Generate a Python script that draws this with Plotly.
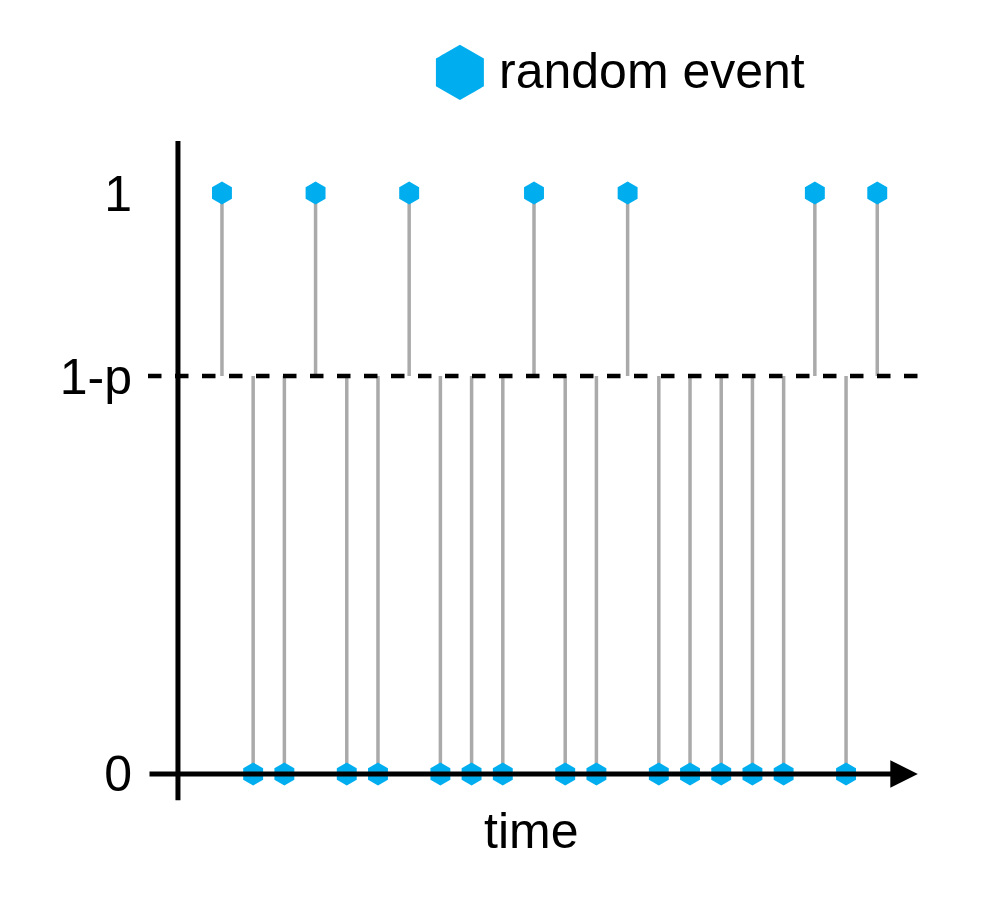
import plotly.graph_objects as go

# event index and outcome (1 = random event)
event_index = list(range(22))
event_value = [1, 0, 0, 1, 0, 0, 1, 0, 0, 0, 1, 0, 0, 1, 0, 0, 0, 0, 0, 1, 0, 1]
threshold = 0.685  # level of 1-p
tick_vals = [0, threshold, 1]
tick_text = ["0", "1-p", "1"]

blue = "#00AEEF"
font = dict(family="Liberation Sans, Arial", size=50, color="black")

# stems go from the 1-p baseline to the event value
sx, sy = [], []
for i, v in zip(event_index, event_value):
    sx += [i, i, None]
    sy += [threshold, v, None]

fig = go.Figure()
fig.add_trace(go.Scatter(x=sx, y=sy, mode="lines",
                         line=dict(color="#aaaaaa", width=3.5), hoverinfo="skip"))
fig.add_trace(go.Scatter(x=event_index, y=event_value, mode="markers",
                         marker=dict(symbol="hexagon", size=23, color=blue),
                         cliponaxis=False))

x0, x1 = -2.37, 22.53
fig.add_shape(type="line", x0=x0, x1=22.6, y0=threshold, y1=threshold,
              line=dict(color="black", width=4.5, dash="dash"))
fig.add_shape(type="line", x0=-1.41, x1=-1.41, y0=-0.045, y1=1.09,
              line=dict(color="black", width=5))
fig.add_annotation(x=22.3, y=0, ax=x0, ay=0, axref="x", ayref="y",
                   showarrow=True, arrowhead=2, arrowsize=1.1, arrowwidth=5,
                   arrowcolor="black", text="")
fig.add_annotation(x=0.493, y=-0.045, xref="paper", yref="paper", text="time",
                   showarrow=False, font=font, yanchor="middle")
# legend
fig.add_annotation(x=0.402, y=1.106, xref="paper", yref="paper", text="⬢",
                   showarrow=False, yanchor="middle",
                   font=dict(family="DejaVu Sans", size=66, color=blue))
fig.add_annotation(x=0.449, y=1.106, xref="paper", yref="paper",
                   text="random event", showarrow=False, xanchor="left",
                   yanchor="middle", font=font)

fig.update_layout(
    width=983, height=915, showlegend=False,
    plot_bgcolor="white", paper_bgcolor="white",
    margin=dict(l=140, r=66, t=133, b=122),
    xaxis=dict(range=[x0, x1], visible=False),
    yaxis=dict(range=[-0.0465, 1.0895], showgrid=False, zeroline=False,
               tickvals=tick_vals, ticktext=tick_text, tickfont=font,
               ticklabelstandoff=15, ticks=""),
)
fig.write_html("out.html")
